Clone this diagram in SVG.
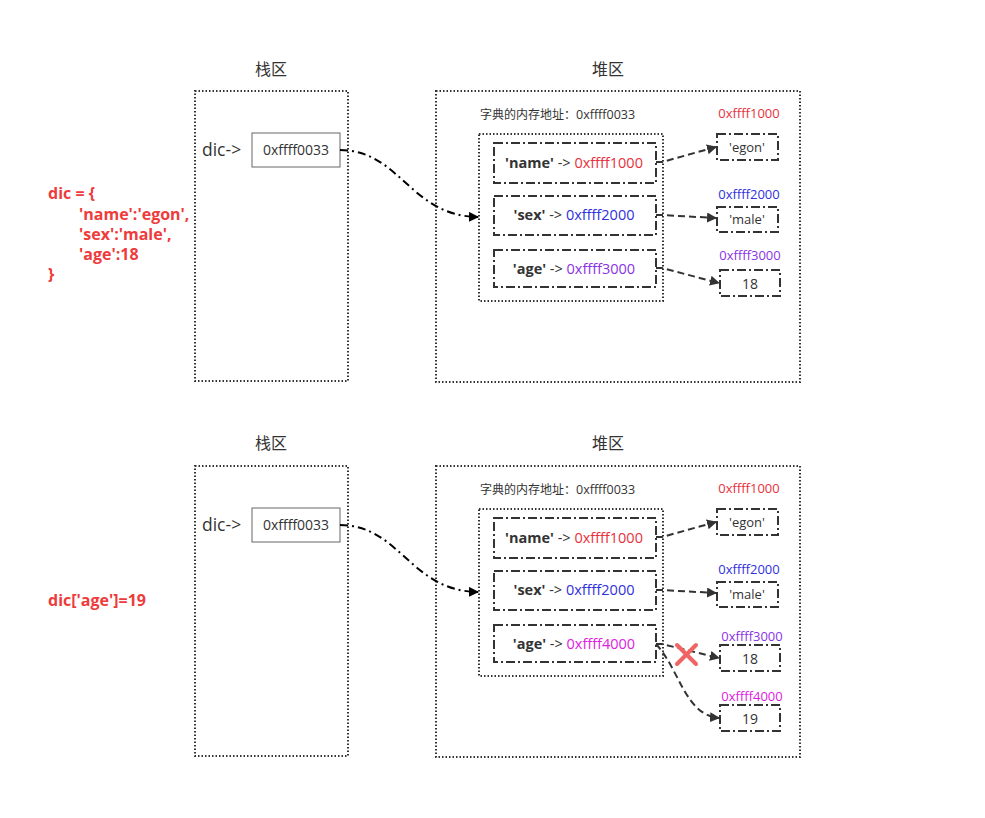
<svg xmlns="http://www.w3.org/2000/svg" width="985" height="818" viewBox="0 0 985 818">
<style>
text{font-family:"Open Sans","Noto Sans CJK SC",sans-serif;fill:#333}
.cjk{font-family:"Noto Sans CJK SC",sans-serif}
.title{font-size:16px}
.dot{fill:none;stroke:#333;stroke-width:2;stroke-dasharray:1.5 2}
.dd{fill:#fff;stroke:#333;stroke-width:2;stroke-dasharray:9 3 2 3}
.ptr{fill:#fff;stroke:#666;stroke-width:1}
.code{font-size:16px;font-weight:bold;fill:#ee3b3b}
.k{font-size:14.5px}
.v{font-size:13px}
.lbl{font-size:12.5px}
.a1{fill:#e8303c}.a2{fill:#3030dd}.a3{fill:#8a33e6}.a4{fill:#e020e0}
.conn{fill:none;stroke:#333;stroke-width:2;stroke-dasharray:7 4}
.main{fill:none;stroke:#000;stroke-width:2;stroke-dasharray:8 4 2 4}
</style>
<defs>
<marker id="ah" viewBox="0 0 10 10" refX="9" refY="5" markerWidth="5" markerHeight="5" orient="auto" markerUnits="strokeWidth"><path d="M0,0 L10,5 L0,10 z" fill="#333"/></marker>
<marker id="ahb" viewBox="0 0 10 10" refX="9" refY="5" markerWidth="5" markerHeight="5" orient="auto" markerUnits="strokeWidth"><path d="M0,0 L10,5 L0,10 z" fill="#000"/></marker>
</defs>
<rect width="985" height="818" fill="#fff"/>

<g id="code1">
<text class="code" x="48" y="199">dic = {</text>
<text class="code" x="79" y="220">'name':'egon',</text>
<text class="code" x="79" y="240">'sex':'male',</text>
<text class="code" x="79" y="260">'age':18</text>
<text class="code" x="48" y="280">}</text>
</g>
<g id="code2"><text class="code" x="48" y="606" font-size="18">dic['age']=19</text></g>

<!-- top section -->
<g id="stack1">
<text class="title cjk" x="271" y="75" text-anchor="middle">栈区</text>
<rect class="dot" x="195" y="91" width="153" height="290"/>
<text x="202" y="156" font-size="17.5">dic-&gt;</text>
</g>
<g id="ptr1"><rect class="ptr" x="252" y="133" width="88" height="34"/><text x="296" y="155" text-anchor="middle" font-size="14">0xffff0033</text></g>
<g id="heap1">
<text class="title cjk" x="608" y="75" text-anchor="middle">堆区</text>
<rect class="dot" x="436" y="91" width="364" height="291"/>
<text class="lbl" x="480" y="119"><tspan class="cjk" font-size="12">字典的内存地址：</tspan>0xffff0033</text>
</g>
<g id="dict1"><rect class="dot" x="479" y="134" width="184" height="167"/></g>
<g id="name1"><rect class="dd" x="494" y="143" width="162" height="40"/><text class="k" x="574" y="168" text-anchor="middle"><tspan font-weight="bold">'name'</tspan> -&gt; <tspan class="a1">0xffff1000</tspan></text></g>
<g id="sex1"><rect class="dd" x="494" y="196" width="162" height="39"/><text class="k" x="574" y="220" text-anchor="middle"><tspan font-weight="bold">'sex'</tspan> -&gt; <tspan class="a2">0xffff2000</tspan></text></g>
<g id="age1"><rect class="dd" x="494" y="250" width="162" height="37"/><text class="k" x="574" y="274" text-anchor="middle"><tspan font-weight="bold">'age'</tspan> -&gt; <tspan class="a3">0xffff3000</tspan></text></g>
<g id="egon1"><text class="v a1" x="749" y="118" text-anchor="middle">0xffff1000</text><rect class="dd" x="717" y="134" width="61" height="26"/><text class="v" x="747" y="152" text-anchor="middle">'egon'</text></g>
<g id="male1"><text class="v a2" x="749" y="199" text-anchor="middle">0xffff2000</text><rect class="dd" x="717" y="207" width="61" height="25"/><text class="v" x="747" y="224" text-anchor="middle">'male'</text></g>
<g id="v18a"><text class="v a3" x="750" y="260" text-anchor="middle">0xffff3000</text><rect class="dd" x="720" y="270" width="60" height="26"/><text x="750" y="289" text-anchor="middle" font-size="14">18</text></g>

<!-- bottom section -->
<g id="stack2">
<text class="title cjk" x="271" y="449" text-anchor="middle">栈区</text>
<rect class="dot" x="195" y="466" width="153" height="290"/>
<text x="202" y="531" font-size="17.5">dic-&gt;</text>
</g>
<g id="ptr2"><rect class="ptr" x="252" y="508" width="88" height="34"/><text x="296" y="530" text-anchor="middle" font-size="14">0xffff0033</text></g>
<g id="heap2">
<text class="title cjk" x="608" y="449" text-anchor="middle">堆区</text>
<rect class="dot" x="436" y="466" width="364" height="291"/>
<text class="lbl" x="480" y="494"><tspan class="cjk" font-size="12">字典的内存地址：</tspan>0xffff0033</text>
</g>
<g id="dict2"><rect class="dot" x="479" y="509" width="184" height="167"/></g>
<g id="name2"><rect class="dd" x="494" y="518" width="162" height="40"/><text class="k" x="574" y="543" text-anchor="middle"><tspan font-weight="bold">'name'</tspan> -&gt; <tspan class="a1">0xffff1000</tspan></text></g>
<g id="sex2"><rect class="dd" x="494" y="571" width="162" height="39"/><text class="k" x="574" y="595" text-anchor="middle"><tspan font-weight="bold">'sex'</tspan> -&gt; <tspan class="a2">0xffff2000</tspan></text></g>
<g id="age2"><rect class="dd" x="494" y="625" width="162" height="37"/><text class="k" x="574" y="649" text-anchor="middle"><tspan font-weight="bold">'age'</tspan> -&gt; <tspan class="a4">0xffff4000</tspan></text></g>
<g id="egon2"><text class="v a1" x="749" y="493" text-anchor="middle">0xffff1000</text><rect class="dd" x="717" y="509" width="61" height="26"/><text class="v" x="747" y="527" text-anchor="middle">'egon'</text></g>
<g id="male2"><text class="v a2" x="749" y="574" text-anchor="middle">0xffff2000</text><rect class="dd" x="717" y="582" width="61" height="25"/><text class="v" x="747" y="599" text-anchor="middle">'male'</text></g>
<g id="v18b"><text class="v a3" x="752" y="641" text-anchor="middle">0xffff3000</text><rect class="dd" x="720" y="645" width="60" height="26"/><text x="750" y="664" text-anchor="middle" font-size="14">18</text></g>
<g id="v19"><text class="v a4" x="752" y="701" text-anchor="middle">0xffff4000</text><rect class="dd" x="720" y="705" width="60" height="26"/><text x="750" y="724" text-anchor="middle" font-size="14">19</text></g>

<g id="connectors">
<path class="main" d="M340,150 C400,150 410,216 478,217" marker-end="url(#ahb)"/>
<path class="conn" d="M656,162 L662,162 L716,147" marker-end="url(#ah)"/>
<path class="conn" d="M656,215 L662,215 L716,218" marker-end="url(#ah)"/>
<path class="conn" d="M656,268 L662,268 L719,283" marker-end="url(#ah)"/>
<path class="main" d="M340,525 C400,525 410,591 478,592" marker-end="url(#ahb)"/>
<path class="conn" d="M656,537 L662,537 L716,522" marker-end="url(#ah)"/>
<path class="conn" d="M656,590 L662,590 L716,593" marker-end="url(#ah)"/>
<path class="conn" d="M656,644 L662,644 L719,658" marker-end="url(#ah)"/>
<path class="conn" d="M656,644 C680,670 685,715 719,718" marker-end="url(#ah)"/>
</g>
<g id="cross" stroke="#f06464" stroke-width="4" stroke-linecap="round">
<line x1="677" y1="645" x2="696" y2="664"/><line x1="696" y1="645" x2="677" y2="664"/>
</g>
</svg>
